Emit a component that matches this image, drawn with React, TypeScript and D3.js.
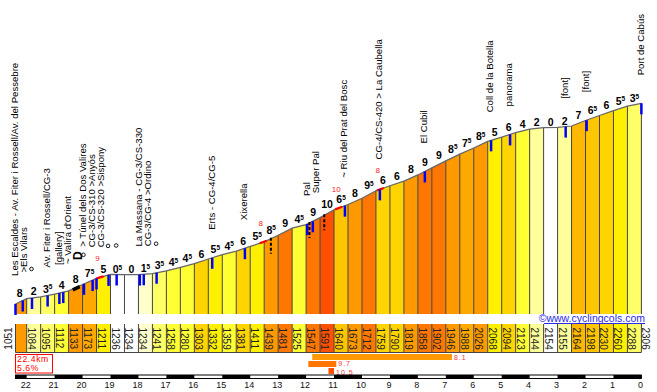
import React from "react";
import * as d3 from "d3";

// km from the top, one mark every half km (first stretch is 0.4 km)
const kms = [22.4, 22, 21.5, 21, 20.5, 20, 19.5, 19, 18.5, 18, 17.5, 17, 16.5, 16, 15.5, 15, 14.5, 14, 13.5, 13, 12.5, 12, 11.5, 11, 10.5, 10, 9.5, 9, 8.5, 8, 7.5, 7, 6.5, 6, 5.5, 5, 4.5, 4, 3.5, 3, 2.5, 2, 1.5, 1, 0.5, 0];
const elevations = [1051, 1084, 1095, 1112, 1133, 1173, 1211, 1236, 1234, 1234, 1241, 1258, 1280, 1303, 1332, 1359, 1381, 1411, 1439, 1481, 1525, 1547, 1591, 1640, 1673, 1712, 1759, 1790, 1819, 1858, 1902, 1946, 1988, 2026, 2068, 2094, 2123, 2144, 2154, 2155, 2164, 2198, 2230, 2260, 2288, 2306];
const grades = [8, 2, 3.5, 4, 8, 7.5, 5, 0.5, 0, 1.5, 3.5, 4.5, 4.5, 6, 5.5, 4.5, 6, 5.5, 8.5, 9, 4.5, 9, 10, 6.5, 8, 9.5, 6, 6, 8, 9, 9, 8.5, 7.5, 8.5, 5, 6, 4, 2, 0, 2, 7, 6.5, 6, 5.5, 3.5];

const places = [
  { km: 22.4, name: "Les Escaldes - Av. Fiter i Rossell/Av. del Pessebre" },
  { km: 22.14, name: ">Els Vilars" },
  { km: 21.81, name: "", dot: true },
  { km: 21.25, name: "Av. Fiter i Rossell/CG-3" },
  { km: 20.83, name: "[gallery]" },
  { km: 20.69, name: "~ Valira d'Orient" },
  { km: 19.95, name: "> Túnel dels Dos Valires", dot: true },
  { km: 19.64, name: "CG-3/CS-310 >Anyós" },
  { km: 19.5, name: "CG-3/CS-320 >Sispony" },
  { km: 19.07, name: "", dot: true },
  { km: 18.78, name: "", dot: true },
  { km: 17.95, name: "La Massana - CG-3/CS-330" },
  { km: 17.81, name: "CG-3/CG-4 >Ordino" },
  { km: 17.35, name: "", dot: true },
  { km: 15.36, name: "Erts - CG-4/CG-5" },
  { km: 14.19, name: "Xixerella" },
  { km: 11.96, name: "Pal" },
  { km: 11.76, name: "Super Pal" },
  { km: 10.61, name: "~ Riu del Prat del Bosc" },
  { km: 9.36, name: "CG-4/CS-420 > La Caubella" },
  { km: 7.75, name: "El Cubil" },
  { km: 5.38, name: "Coll de la Botella" },
  { km: 4.7, name: "panorama" },
  { km: 2.71, name: "[font]" },
  { km: 1.96, name: "[font]" },
  { km: 0, name: "Port de Cabús" },
];

// steepest 100 m bits (red)
const steepKm = [19.5, 13.66, 10.96, 9.47];
const steepPct = [9, 8, 10, 8];

// hairpins / dashed marks and the tunnel
const dashedKm = [13.26, 11.88, 11.35];
const tunnelKm = [20.35, 20.1];

// steepest 5 km, 1 km, 200 m
const bestFrom = [11.78, 11.92, 11.2];
const bestLen = [5, 1, 0.2];
const bestPct = [8.1, 9.7, 10.5];

const kmTicks = [22, 21, 20, 19, 18, 17, 16, 15, 14, 13, 12, 11, 10, 9, 8, 7, 6, 5, 4, 3, 2, 1, 0];

const font = "'Liberation Sans', Arial, sans-serif";

const x = d3.scaleLinear().domain([22.4, 0]).range([15.5, 641.4]);
const y = d3.scaleLinear().domain([988, 2306]).range([314, 103.3]);
const elevAt = d3.scaleLinear().domain(kms).range(elevations);
const color = d3
  .scaleThreshold<number, string>()
  .domain([1, 2, 3, 4, 5, 6, 6.5, 7, 7.5, 8, 9, 10])
  .range(["#ffffff", "#ffffcc", "#ffff99", "#ffff66", "#ffff33", "#fff000", "#ffd400", "#ffc600", "#ffb800", "#ffa800", "#ff9900", "#ff7700", "#ff5000"]);

const base = y(988);
const py = (k: number) => y(elevAt(k));

export default function App() {
  const segs = grades.map((g, i) => ({
    g,
    x0: x(kms[i]),
    x1: x(kms[i + 1]),
    y0: y(elevations[i]),
    y1: y(elevations[i + 1]),
  }));

  const line = d3.line<number>().x((k) => x(k)).y((k) => py(k));

  // red steep numbers
  const reds = steepKm.map((k, i) => ({ x: x(k) + 1, base: py(k) - 17, pct: steepPct[i], k }));

  // place label columns, pushed apart
  let prev = -100;
  const labels = places
    .filter((p) => p.name)
    .map((p) => {
      const c = Math.max(x(p.km) - 1, prev + 9);
      prev = c;
      let bottom = p.dot ? py(p.km) - 37 : py(p.km) - 28;
      reds.forEach((r) => {
        if (Math.abs(r.x - c) < 6) bottom = Math.min(bottom, r.base - 14);
      });
      return { ...p, c, bottom };
    });

  const totalKm = kms[0];
  const avg = ((elevations[elevations.length - 1] - elevations[0]) / (totalKm * 1000)) * 100;

  const stripes = kmTicks.slice(0, -1).map((k, i) => ({ a: k, b: kmTicks[i + 1] }));
  const bestBase = [359.8, 366.4, 374.6];

  return (
    <svg width={657} height={392} style={{ position: "absolute", left: 0, top: 0, background: "#fff" }} fontFamily={font}>
      {/* profile bars */}
      {segs.map((s, i) => (
        <polygon key={"s" + i} points={`${s.x0},${s.y0} ${s.x1},${s.y1} ${s.x1},${base} ${s.x0},${base}`} fill={color(s.g)} />
      ))}
      {kms.map((k, i) => (
        <line key={"v" + i} x1={x(k)} x2={x(k)} y1={base} y2={y(elevations[i])} stroke="#444" strokeWidth={1} />
      ))}
      <path d={line(kms) || ""} fill="none" stroke="#666" strokeWidth={1.2} />

      {/* red steep bits */}
      {reds.map((r, i) => (
        <path key={"rb" + i} d={line([r.k, r.k - 0.25]) || ""} stroke="#ff0000" strokeWidth={2.2} fill="none" />
      ))}
      {/* tunnel */}
      <path d={line(tunnelKm) || ""} stroke="#000" strokeWidth={3.5} fill="none" transform="translate(0,1)" />

      {/* blue ticks */}
      {places.map((p, i) => (
        <line key={"b" + i} x1={x(p.km)} x2={x(p.km)} y1={py(p.km)} y2={py(p.km) + 11} stroke="#0000ff" strokeWidth={2.5} />
      ))}
      {dashedKm.map((k, i) => (
        <line key={"d" + i} x1={x(k)} x2={x(k)} y1={py(k) - 1} y2={py(k) + 15} stroke="#000" strokeWidth={2} strokeDasharray="3,2" />
      ))}

      {/* grade labels */}
      {segs.map((s, i) => {
        const whole = Math.floor(s.g);
        const half = s.g % 1 !== 0;
        return (
          <text key={"g" + i} x={x(kms[i + 1] + 0.25)} y={Math.min(s.y0, s.y1) - 1.5} textAnchor="middle" fontSize={10.5} fontWeight="bold" fill="#000">
            {whole}
            {half && (
              <tspan fontSize={6.5} dy={-3.2}>
                5
              </tspan>
            )}
          </text>
        );
      })}

      {reds.map((r, i) => (
        <text key={"rn" + i} x={r.x} y={r.base} textAnchor="middle" fontSize={8} fill="#ff2020">
          {r.pct}
        </text>
      ))}

      {/* place names */}
      {labels.map((l, i) => (
        <text key={"l" + i} transform={`translate(${l.c + 3.4},${l.bottom}) rotate(-90)`} fontSize={9.6} fill="#000">
          {l.name}
        </text>
      ))}
      {places
        .filter((p) => p.dot)
        .map((p, i) => (
          <circle key={"o" + i} cx={x(p.km) - 0.5} cy={py(p.km) - 29} r={1.8} fill="none" stroke="#000" strokeWidth={0.9} />
        ))}
      <text transform={`translate(${x(20.18) + 4.3},${py(20.18) - 31}) rotate(-90)`} textAnchor="middle" fontSize={12} fontWeight="bold">
        D
      </text>

      {/* watermark */}
      <text x={645} y={322} textAnchor="end" fontSize={10.5} fill="#2a2ae8">
        ©www.cyclingcols.com
      </text>
      <line x1={544} x2={645} y1={323.5} y2={323.5} stroke="#2a2ae8" strokeWidth={1} />

      {/* elevation strip */}
      {segs.map((s, i) => (
        <rect key={"c" + i} x={s.x0} y={324} width={s.x1 - s.x0} height={28.5} fill={color(s.g)} />
      ))}
      {kms.map((k, i) => (
        <line key={"cv" + i} x1={x(k)} x2={x(k)} y1={324} y2={352.5} stroke="#444" strokeWidth={1} />
      ))}
      <line x1={x(kms[0])} x2={x(0)} y1={352.5} y2={352.5} stroke="#444" strokeWidth={1} />
      {elevations.map((e, i) =>
        i === 0 ? (
          <text key={"e" + i} transform={`translate(12,338.5) rotate(-90)`} textAnchor="middle" fontSize={10} fill="#222">
            {e}
          </text>
        ) : (
          <text key={"e" + i} transform={`translate(${x(kms[i]) + 1},327.5) rotate(90)`} fontSize={10} fill="#222">
            {e}
          </text>
        )
      )}

      {/* totals */}
      <rect x={15.5} y={354.5} width={37} height={18.5} fill="#fff" stroke="#ff0000" strokeWidth={1} />
      <text x={17} y={362} fontSize={8.6} letterSpacing={0.6} fill="#ff0000">
        {totalKm}km
      </text>
      <text x={17} y={370.5} fontSize={8.6} letterSpacing={0.6} fill="#ff0000">
        {avg.toFixed(1)}%
      </text>

      {/* steepest stretches */}
      {bestFrom.map((f, i) => (
        <g key={"bst" + i}>
          <rect x={x(f)} y={354 + i * 7} width={x(f - bestLen[i]) - x(f)} height={6} fill={color(bestPct[i])} />
          <text x={x(f - bestLen[i]) + 2} y={bestBase[i]} fontSize={7} letterSpacing={1} fill="#ff3030">
            {bestPct[i]}
          </text>
        </g>
      ))}

      {/* km axis */}
      <rect x={x(22.4)} y={375} width={x(0) - x(22.4)} height={3.5} fill="#fff" stroke="#000" strokeWidth={1} />
      <rect x={x(22.4)} y={375} width={x(22) - x(22.4)} height={3.5} fill="#000" />
      {stripes.map((s, i) =>
        i % 2 === 1 ? <rect key={"st" + i} x={x(s.a)} y={375} width={x(s.b) - x(s.a)} height={3.5} fill="#000" /> : null
      )}
      {kmTicks.map((k) => (
        <text key={"t" + k} x={x(k) - 1} y={388} textAnchor="middle" fontSize={9} fill="#111">
          {k}
        </text>
      ))}
    </svg>
  );
}
